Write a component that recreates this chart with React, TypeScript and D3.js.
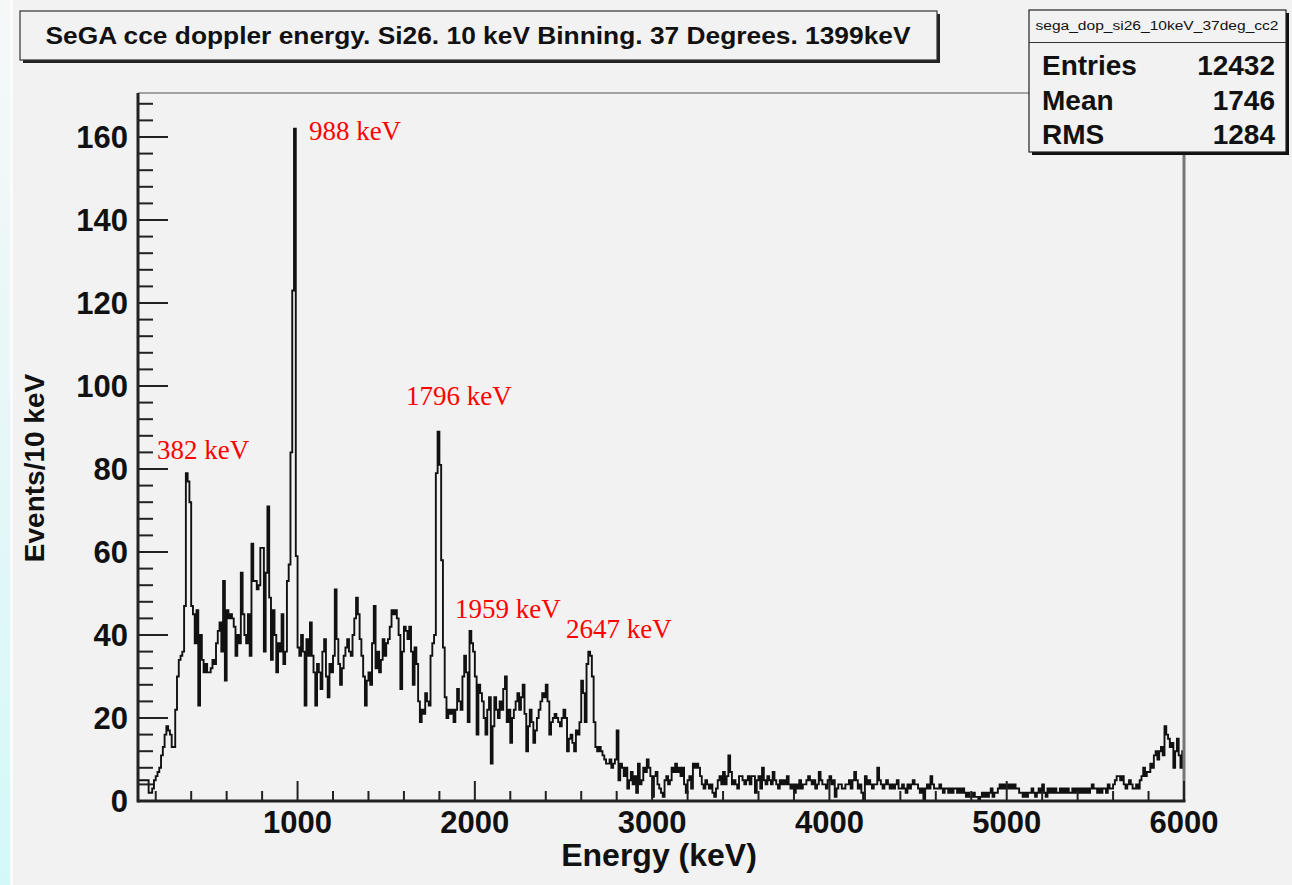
import React from "react";
import * as d3 from "d3";

// Histogram: SeGA doppler-corrected energy, 10 keV bins from 100 to 6000 keV
const BIN_START = 100;
const BIN_WIDTH = 10;
const X_MAX = 6000;

// counts per 10 keV bin, one row per 100 keV (row label = first bin's low edge)
const counts: number[] = [
  /* 100 */ 5, 5, 5, 5, 5, 5, 2, 2, 3, 5,
  /* 200 */ 6, 7, 8, 11, 13, 16, 18, 17, 16, 13,
  /* 300 */ 13, 22, 30, 34, 35, 36, 47, 79, 77, 72,
  /* 400 */ 47, 45, 38, 46, 23, 40, 34, 31, 33, 31,
  /* 500 */ 31, 32, 34, 33, 38, 41, 43, 36, 53, 29,
  /* 600 */ 46, 44, 45, 44, 42, 35, 40, 38, 55, 45,
  /* 700 */ 40, 38, 45, 35, 62, 53, 53, 51, 52, 61,
  /* 800 */ 61, 36, 55, 71, 49, 34, 46, 40, 31, 38,
  /* 900 */ 36, 45, 33, 36, 53, 57, 84, 123, 162, 59,
  /* 1000 */ 37, 35, 40, 36, 23, 39, 35, 43, 35, 31,
  /* 1100 */ 23, 33, 31, 27, 36, 39, 30, 25, 33, 31,
  /* 1200 */ 35, 51, 39, 33, 28, 32, 35, 37, 39, 36,
  /* 1300 */ 35, 40, 44, 49, 45, 39, 35, 30, 23, 29,
  /* 1400 */ 31, 28, 38, 47, 32, 36, 31, 34, 39, 35,
  /* 1500 */ 38, 39, 42, 46, 45, 46, 44, 40, 27, 36,
  /* 1600 */ 42, 41, 39, 42, 36, 28, 37, 33, 24, 19,
  /* 1700 */ 22, 21, 26, 24, 23, 35, 38, 40, 79, 89,
  /* 1800 */ 81, 58, 37, 25, 20, 22, 21, 22, 19, 22,
  /* 1900 */ 27, 24, 22, 30, 35, 31, 19, 41, 38, 36,
  /* 2000 */ 30, 16, 28, 26, 24, 20, 16, 22, 25, 9,
  /* 2100 */ 18, 25, 22, 20, 24, 22, 27, 30, 19, 22,
  /* 2200 */ 14, 20, 22, 24, 26, 22, 25, 28, 21, 12,
  /* 2300 */ 18, 22, 19, 14, 17, 20, 22, 24, 26, 25,
  /* 2400 */ 28, 24, 16, 19, 20, 21, 20, 19, 18, 20,
  /* 2500 */ 22, 20, 12, 15, 16, 14, 12, 17, 16, 19,
  /* 2600 */ 29, 26, 19, 33, 36, 35, 30, 19, 13, 12,
  /* 2700 */ 13, 12, 11, 10, 9, 9, 10, 8, 9, 10,
  /* 2800 */ 17, 5, 9, 8, 6, 8, 3, 5, 7, 4,
  /* 2900 */ 6, 2, 9, 4, 5, 8, 7, 10, 8, 6,
  /* 3000 */ 1, 6, 7, 4, 3, 2, 1, 5, 6, 4,
  /* 3100 */ 5, 8, 7, 9, 7, 8, 6, 8, 4, 2,
  /* 3200 */ 5, 6, 3, 9, 8, 9, 8, 6, 4, 3,
  /* 3300 */ 5, 4, 3, 4, 2, 1, 3, 5, 6, 4,
  /* 3400 */ 7, 4, 6, 11, 7, 4, 5, 4, 3, 6,
  /* 3500 */ 6, 5, 4, 5, 6, 4, 6, 6, 2, 5,
  /* 3600 */ 6, 3, 8, 5, 4, 6, 5, 4, 7, 5,
  /* 3700 */ 4, 3, 5, 4, 5, 4, 6, 4, 3, 4,
  /* 3800 */ 2, 4, 3, 5, 3, 4, 4, 5, 6, 5,
  /* 3900 */ 4, 5, 3, 4, 7, 5, 4, 4, 3, 5,
  /* 4000 */ 6, 4, 5, 1, 3, 4, 4, 3, 3, 4,
  /* 4100 */ 4, 5, 3, 5, 7, 5, 3, 4, 2, 0,
  /* 4200 */ 6, 4, 5, 4, 3, 4, 4, 8, 5, 4,
  /* 4300 */ 3, 4, 5, 4, 3, 4, 3, 4, 5, 3,
  /* 4400 */ 3, 4, 3, 2, 4, 3, 4, 5, 4, 4,
  /* 4500 */ 3, 2, 3, 0, 3, 4, 3, 6, 4, 3,
  /* 4600 */ 3, 3, 4, 3, 2, 3, 3, 2, 3, 2,
  /* 4700 */ 3, 3, 2, 3, 2, 3, 2, 1, 2, 1,
  /* 4800 */ 1, 2, 1, 1, 0, 1, 2, 1, 2, 1,
  /* 4900 */ 2, 3, 1, 2, 2, 3, 4, 3, 4, 3,
  /* 5000 */ 4, 3, 4, 3, 4, 3, 3, 2, 2, 1,
  /* 5100 */ 2, 1, 2, 2, 3, 2, 1, 2, 3, 2,
  /* 5200 */ 4, 2, 1, 3, 2, 3, 2, 3, 2, 2,
  /* 5300 */ 3, 2, 3, 2, 3, 2, 2, 3, 2, 3,
  /* 5400 */ 2, 3, 2, 3, 2, 3, 2, 3, 4, 3,
  /* 5500 */ 3, 2, 3, 2, 3, 3, 2, 4, 3, 3,
  /* 5600 */ 4, 5, 6, 6, 5, 6, 4, 3, 4, 5,
  /* 5700 */ 4, 3, 3, 4, 3, 5, 6, 8, 6, 7,
  /* 5800 */ 7, 9, 8, 11, 12, 10, 12, 13, 11, 18,
  /* 5900 */ 16, 15, 13, 14, 8, 12, 15, 11, 8, 12,
];

const yTickValues = [0, 20, 40, 60, 80, 100, 120, 140, 160];
const xTickValues = [1000, 2000, 3000, 4000, 5000, 6000];

const peakLabels = ["382 keV", "988 keV", "1796 keV", "1959 keV", "2647 keV"];

const histName = "sega_dop_si26_10keV_37deg_cc2";
const statNames = ["Entries", "Mean", "RMS"];
const statValues = ["12432", "1746", "1284"];

const titleText =
  "SeGA cce doppler energy. Si26. 10 keV Binning. 37 Degrees. 1399keV";
const xTitle = "Energy (keV)";
const yTitle = "Events/10 keV";

const SANS = "'Liberation Sans', Arial, Helvetica, sans-serif";
const SERIF = "'Liberation Serif', 'Times New Roman', serif";

export default function App() {
  const W = 1292;
  const H = 885;
  const frame = { left: 138, right: 1184, top: 93, bottom: 801 };

  const x = d3.scaleLinear().domain([BIN_START, X_MAX]).range([frame.left, frame.right]);
  const y = d3.scaleLinear().domain([0, 170.6]).range([frame.bottom, frame.top]);

  // step outline, ROOT style: rises from the baseline at the first edge
  const stepPoints: [number, number][] = counts.map((c, i) => [BIN_START + i * BIN_WIDTH, c]);
  stepPoints.push([X_MAX, counts[counts.length - 1]]);
  const stepLine = d3
    .line<[number, number]>()
    .x((d) => x(d[0]))
    .y((d) => y(d[1]))
    .curve(d3.curveStepAfter);
  const histPath = `M${x(BIN_START)},${y(0)}L` + (stepLine(stepPoints) as string).slice(1);

  const yMinor = d3.range(0, 171, 4).filter((v) => v % 20 !== 0);
  const xMinor = d3.range(200, 6000, 200).filter((v) => v % 1000 !== 0);

  // annotation anchors in data units (keV, counts): text start and baseline
  const peakLabelAnchors: [number, number][] = [
    [207, 82.5],
    [1064, 159.3],
    [1612, 95.3],
    [1888, 44.2],
    [2514, 39.3],
  ];

  return (
    <div style={{ position: "fixed", left: 0, top: 0 }}>
      <svg width={W} height={H} style={{ display: "block" }}>
        <defs>
          <linearGradient id="edgeStrip" x1="0" y1="0" x2="0" y2="1">
            <stop offset="0" stopColor="#f6f8f8" />
            <stop offset="0.5" stopColor="#e6f7f7" />
            <stop offset="1" stopColor="#d4f8f8" />
          </linearGradient>
        </defs>

        {/* canvas */}
        <rect x={0} y={0} width={W} height={H} fill="#f2f2f2" />
        <rect x={0} y={0} width={10} height={H} fill="url(#edgeStrip)" />
        <rect x={10} y={0} width={3} height={H} fill="#fbfbfb" />

        {/* title box with shadow */}
        <rect x={23} y={14} width={917} height={49} fill="#222" />
        <rect x={20} y={11} width={917} height={49} fill="#f2f2f2" stroke="#333" strokeWidth={1.2} />
        <text
          x={478}
          y={44}
          textAnchor="middle"
          fontFamily={SANS}
          fontWeight="bold"
          fontSize={23}
          fill="#111"
          textLength={865}
          lengthAdjust="spacingAndGlyphs"
        >
          {titleText}
        </text>

        {/* histogram */}
        <path d={histPath} fill="none" stroke="#111" strokeWidth={1.9} strokeLinejoin="miter" />

        {/* frame */}
        <line x1={frame.left} y1={frame.top} x2={frame.right} y2={frame.top} stroke="#888" strokeWidth={1.5} />
        <line x1={frame.right} y1={frame.top} x2={frame.right} y2={frame.bottom} stroke="#777" strokeWidth={3} />
        <line x1={frame.left} y1={frame.top} x2={frame.left} y2={frame.bottom + 1.5} stroke="#222" strokeWidth={3} />
        <line x1={frame.left} y1={frame.bottom} x2={frame.right + 1.5} y2={frame.bottom} stroke="#222" strokeWidth={3} />

        {/* y ticks */}
        {yTickValues.map((v) => (
          <g key={`yt${v}`}>
            <line x1={frame.left} x2={frame.left + 30} y1={y(v)} y2={y(v)} stroke="#222" strokeWidth={2} />
            <text
              x={128}
              y={y(v) + 11}
              textAnchor="end"
              fontFamily={SANS}
              fontWeight="bold"
              fontSize={31}
              fill="#111"
            >
              {v}
            </text>
          </g>
        ))}
        {yMinor.map((v) => (
          <line key={`ym${v}`} x1={frame.left} x2={frame.left + 15} y1={y(v)} y2={y(v)} stroke="#222" strokeWidth={2} />
        ))}

        {/* x ticks */}
        {xTickValues.map((v) => (
          <g key={`xt${v}`}>
            <line x1={x(v)} x2={x(v)} y1={frame.bottom} y2={frame.bottom - 20} stroke="#222" strokeWidth={2} />
            <text
              x={x(v)}
              y={833}
              textAnchor="middle"
              fontFamily={SANS}
              fontWeight="bold"
              fontSize={31}
              fill="#111"
            >
              {v}
            </text>
          </g>
        ))}
        {xMinor.map((v) => (
          <line key={`xm${v}`} x1={x(v)} x2={x(v)} y1={frame.bottom} y2={frame.bottom - 10} stroke="#222" strokeWidth={2} />
        ))}

        {/* axis titles */}
        <text
          x={659}
          y={866}
          textAnchor="middle"
          fontFamily={SANS}
          fontWeight="bold"
          fontSize={32}
          fill="#111"
        >
          {xTitle}
        </text>
        <text
          transform={`translate(44,${468}) rotate(-90)`}
          textAnchor="middle"
          fontFamily={SANS}
          fontWeight="bold"
          fontSize={28}
          fill="#111"
        >
          {yTitle}
        </text>

        {/* peak annotations */}
        {peakLabels.map((label, i) => (
          <text
            key={label}
            x={x(peakLabelAnchors[i][0])}
            y={y(peakLabelAnchors[i][1])}
            fontFamily={SERIF}
            fontSize={27}
            fill="#ff0000"
          >
            {label}
          </text>
        ))}

        {/* statistics box */}
        <rect x={1032} y={13} width={257} height={142} fill="#111" />
        <rect x={1029} y={10} width={257} height={142} fill="#f2f2f2" stroke="#222" strokeWidth={1.2} />
        <line x1={1029} x2={1286} y1={42.5} y2={42.5} stroke="#333" strokeWidth={1.2} />
        <text
          x={1157}
          y={30}
          textAnchor="middle"
          fontFamily={SANS}
          fontSize={12}
          fill="#111"
          textLength={243}
          lengthAdjust="spacingAndGlyphs"
        >
          {histName}
        </text>
        {statNames.map((name, i) => (
          <g key={name}>
            <text x={1042} y={75 + i * 34.5} fontFamily={SANS} fontWeight="bold" fontSize={28} fill="#111">
              {name}
            </text>
            <text
              x={1275}
              y={75 + i * 34.5}
              textAnchor="end"
              fontFamily={SANS}
              fontWeight="bold"
              fontSize={28}
              fill="#111"
            >
              {statValues[i]}
            </text>
          </g>
        ))}
      </svg>
    </div>
  );
}
